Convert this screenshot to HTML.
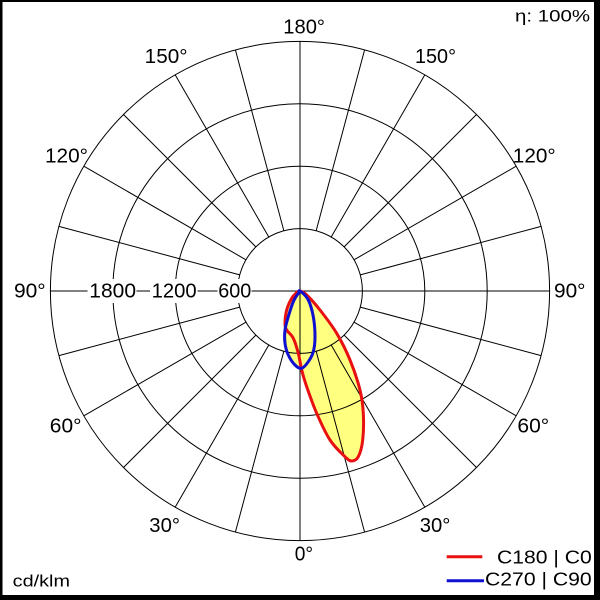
<!DOCTYPE html>
<html>
<head>
<meta charset="utf-8">
<style>
  html,body{margin:0;padding:0;background:#000;}
  body{width:600px;height:600px;overflow:hidden;}
  svg{display:block;}
  text{font-family:"Liberation Sans", Arial, sans-serif; fill:#000;}
</style>
</head>
<body>
<svg width="600" height="600" viewBox="0 0 600 600" xmlns="http://www.w3.org/2000/svg">
  <!-- black frame and white plot area -->
  <rect x="0" y="0" width="600" height="600" fill="#000"/>
  <rect x="2.5" y="2" width="591.5" height="593" fill="#fff"/>

  <!-- yellow fills (under the grid) -->
  <path id="redFill" fill="#ffff80" stroke="none" d="M300 291 L306.7 295 L320 310 L336.7 333.3 L350 360 L360 390 L363.3 413.3 L362.7 440 L358.3 456.7 L351.7 461 L345 456.7 L330 440 L316.7 413.3 L306.7 386.7 L301.7 370 L298.3 353.3 L293.3 338.3 L286.7 330 L285 323.3 L286.7 310 L291.7 298.3 L296.7 292.7 Z"/>
  <path id="blueFill" fill="#ffff80" stroke="none" d="M300 291 L308.3 300 L313.3 316.7 L315 336.7 L313.3 351.7 L308.3 361.7 L301.7 368.3 L295 365 L288.3 355 L285 343.3 L285 330 L288.3 316.7 L293.3 301.7 L298.3 293.3 Z"/>

  <!-- grid -->
  <g fill="none" stroke="#000" stroke-width="1">
    <circle cx="300" cy="291" r="62.4"/>
    <circle cx="300" cy="291" r="124.8"/>
    <circle cx="300" cy="291" r="187.2"/>
    <circle cx="300" cy="291" r="249.6"/>
    <path d="M300 41.4 L300 540.6 M50.4 291 L549.6 291"/>
    <path d="
      M316.15 351.27 L364.6 532.09 M316.15 230.73 L364.6 49.91 M283.85 351.27 L235.4 532.09 M283.85 230.73 L235.4 49.91
      M331.2 345.04 L424.8 507.16 M331.2 236.96 L424.8 74.84 M268.8 345.04 L175.2 507.16 M268.8 236.96 L175.2 74.84
      M344.12 335.12 L476.49 467.49 M344.12 246.88 L476.49 114.51 M255.88 335.12 L123.51 467.49 M255.88 246.88 L123.51 114.51
      M354.04 322.2 L516.16 415.8 M354.04 259.8 L516.16 166.2 M245.96 322.2 L83.84 415.8 M245.96 259.8 L83.84 166.2
      M360.27 307.15 L541.09 355.6 M360.27 274.85 L541.09 226.4 M239.73 307.15 L58.91 355.6 M239.73 274.85 L58.91 226.4"/>
  </g>

  <!-- value labels on horizontal axis -->
  <rect x="87.5" y="279" width="49" height="24" fill="#fff"/>
  <rect x="150" y="279" width="47.5" height="24" fill="#fff"/>
  <rect x="217.5" y="279" width="34" height="24" fill="#fff"/>
  <text x="89.3" y="297.3" font-size="20" textLength="46.7" lengthAdjust="spacingAndGlyphs">1800</text>
  <text x="151.7" y="297.3" font-size="20" textLength="45" lengthAdjust="spacingAndGlyphs">1200</text>
  <text x="218.3" y="297.3" font-size="20" textLength="33" lengthAdjust="spacingAndGlyphs">600</text>

  <!-- angle labels -->
  <g font-size="20">
    <text x="283.3" y="33.3" textLength="41.7" lengthAdjust="spacingAndGlyphs">180°</text>
    <text x="144.7" y="63" textLength="42.8" lengthAdjust="spacingAndGlyphs">150°</text>
    <text x="415" y="63" textLength="41" lengthAdjust="spacingAndGlyphs">150°</text>
    <text x="45" y="162.6" textLength="43" lengthAdjust="spacingAndGlyphs">120°</text>
    <text x="512.8" y="162.6" textLength="42.9" lengthAdjust="spacingAndGlyphs">120°</text>
    <text x="14" y="297.3" textLength="31.7" lengthAdjust="spacingAndGlyphs">90°</text>
    <text x="554" y="297.3" textLength="31.5" lengthAdjust="spacingAndGlyphs">90°</text>
    <text x="49.8" y="432.5" textLength="31.7" lengthAdjust="spacingAndGlyphs">60°</text>
    <text x="517.4" y="432.5" textLength="31.8" lengthAdjust="spacingAndGlyphs">60°</text>
    <text x="149.3" y="532" textLength="30.7" lengthAdjust="spacingAndGlyphs">30°</text>
    <text x="419.8" y="532" textLength="30.6" lengthAdjust="spacingAndGlyphs">30°</text>
    <text x="294.7" y="560.7" textLength="18.3" lengthAdjust="spacingAndGlyphs">0°</text>
  </g>

  <!-- curves -->
  <path id="redLine" fill="none" stroke="#e81010" stroke-width="3" stroke-linejoin="round" d="M300 291 L306.7 295 L320 310 L336.7 333.3 L350 360 L360 390 L363.3 413.3 L362.7 440 L358.3 456.7 L351.7 461 L345 456.7 L330 440 L316.7 413.3 L306.7 386.7 L301.7 370 L298.3 353.3 L293.3 338.3 L286.7 330 L285 323.3 L286.7 310 L291.7 298.3 L296.7 292.7 Z"/>
  <path id="blueLine" fill="none" stroke="#1010d0" stroke-width="3" stroke-linejoin="round" d="M300 291 L308.3 300 L313.3 316.7 L315 336.7 L313.3 351.7 L308.3 361.7 L301.7 368.3 L295 365 L288.3 355 L285 343.3 L285 330 L288.3 316.7 L293.3 301.7 L298.3 293.3 Z"/>

  <!-- corner texts -->
  <text x="515" y="21.7" font-size="17" textLength="75" lengthAdjust="spacingAndGlyphs">η: 100%</text>
  <text x="12.7" y="586.7" font-size="17" textLength="57.3" lengthAdjust="spacingAndGlyphs">cd/klm</text>

  <!-- legend -->
  <line x1="446.7" y1="556.8" x2="482.3" y2="556.8" stroke="#e81010" stroke-width="3"/>
  <line x1="446.7" y1="580.7" x2="484" y2="580.7" stroke="#1010d0" stroke-width="3"/>
  <text x="497" y="563.3" font-size="18" textLength="94.7" lengthAdjust="spacingAndGlyphs">C180 | C0</text>
  <text x="485" y="585.5" font-size="18" textLength="106.7" lengthAdjust="spacingAndGlyphs">C270 | C90</text>
</svg>
<script>
(function(){
  var red=[[300,291],[306.7,295],[320,310],[336.7,333.3],[350,360],[360,390],[363.3,413.3],[362.7,440],[358.3,456.7],[351.7,461],[345,456.7],[330,440],[316.7,413.3],[306.7,386.7],[301.7,370],[298.3,353.3],[293.3,338.3],[286.7,330],[285,323.3],[286.7,310],[291.7,298.3],[296.7,292.7]];
  var blue=[[300,291],[308.3,300],[313.3,316.7],[315,336.7],[313.3,351.7],[308.3,361.7],[301.7,368.3],[295,365],[288.3,355],[285,343.3],[285,330],[288.3,316.7],[293.3,301.7],[298.3,293.3]];
  function cr(p){
    var n=p.length,d="M"+p[0][0]+" "+p[0][1];
    for(var i=0;i<n;i++){
      var p0=p[(i-1+n)%n],p1=p[i],p2=p[(i+1)%n],p3=p[(i+2)%n];
      var c1x=p1[0]+(p2[0]-p0[0])/6,c1y=p1[1]+(p2[1]-p0[1])/6;
      var c2x=p2[0]-(p3[0]-p1[0])/6,c2y=p2[1]-(p3[1]-p1[1])/6;
      d+=" C"+c1x.toFixed(2)+" "+c1y.toFixed(2)+" "+c2x.toFixed(2)+" "+c2y.toFixed(2)+" "+p2[0]+" "+p2[1];
    }
    return d+" Z";
  }
  try{
    var r=cr(red),b=cr(blue);
    document.getElementById("redFill").setAttribute("d",r);
    document.getElementById("redLine").setAttribute("d",r);
    document.getElementById("blueFill").setAttribute("d",b);
    document.getElementById("blueLine").setAttribute("d",b);
  }catch(e){}
})();
</script>
</body>
</html>
